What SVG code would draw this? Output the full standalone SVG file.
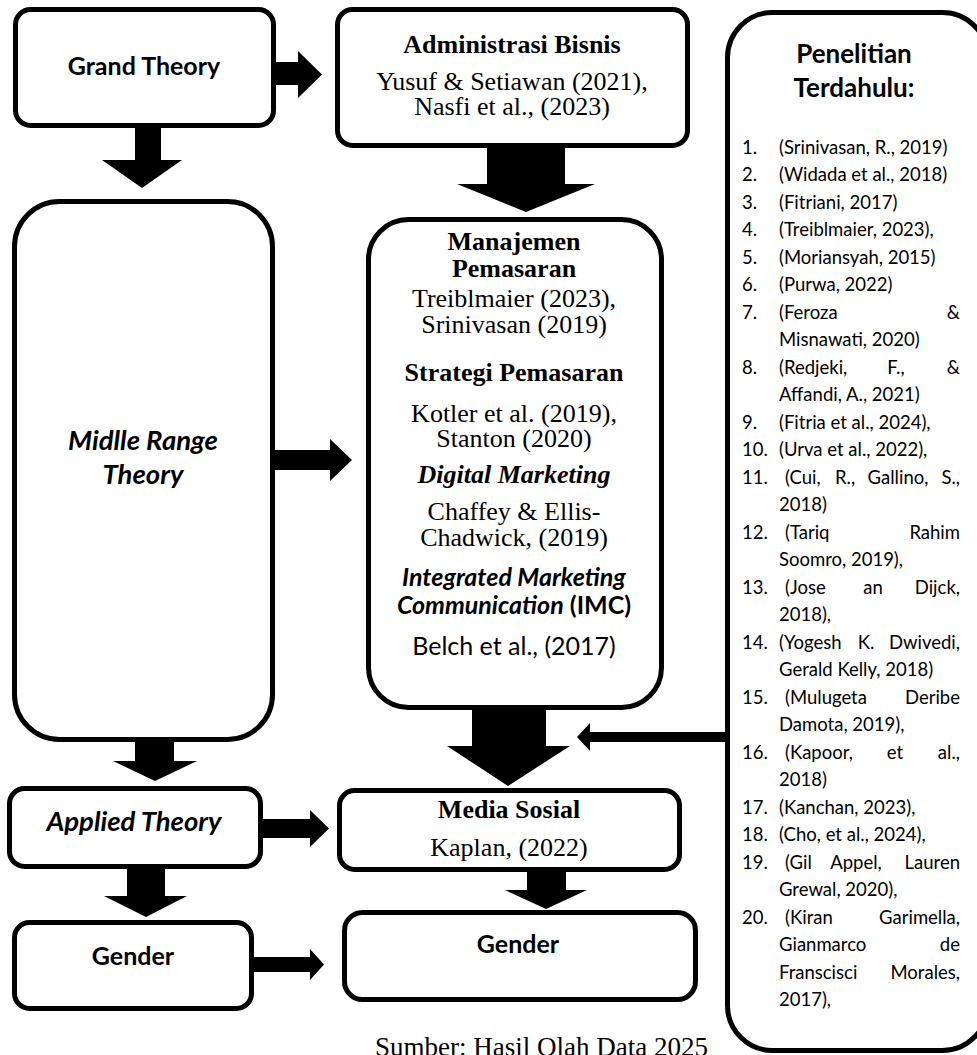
<svg xmlns="http://www.w3.org/2000/svg" width="977" height="1055" viewBox="0 0 977 1055">
<style>
.box{fill:#fff;stroke:#000;stroke-width:5}
.arr{fill:#000;stroke:none}
.tr{font-family:"Liberation Serif","Times New Roman",serif;font-size:26px;text-anchor:middle;fill:#000}
.b{font-weight:bold}
.i{font-style:italic}
.cm{font-family:Lato,"Open Sans",sans-serif;font-size:25px;text-anchor:middle;fill:#000}
.big{font-size:27.5px}
.li{font-family:Lato,"Open Sans",sans-serif;font-size:18.5px;fill:#000}
.e{text-anchor:end}
.m{text-anchor:middle}
</style>
<rect width="977" height="1055" fill="#fff"/>
<g id="connectors">
<polygon class="arr" points="276,62 298,62 298,51 322,74.5 298,98 298,85 276,85"/>
<polygon class="arr" points="135,128 161,128 161,160 182,160 142,188 102,160 135,160"/>
<polygon class="arr" points="487,148 565,148 565,184 595,184 526,212 457,184 487,184"/>
<polygon class="arr" points="275,450 330,450 330,439 352,460 330,481 330,470 275,470"/>
<polygon class="arr" points="135,740 174,740 174,761 197,761 155,781 113,761 135,761"/>
<polygon class="arr" points="472,708 546,708 546,746 570,746 508,786 447,746 472,746"/>
<polygon class="arr" points="727,732 590,732 590,723 577,737 590,751 590,742 727,742"/>
<polygon class="arr" points="263,819 310,819 310,810 329,828.5 310,847 310,838 263,838"/>
<polygon class="arr" points="127,867 165,867 165,896 187,896 146,917 104,896 127,896"/>
<polygon class="arr" points="254,957 310,957 310,949 324,964.5 310,980 310,972 254,972"/>
<polygon class="arr" points="527,870 566,870 566,890 587,890 546,909 505,890 527,890"/>
</g>
<g id="grand-theory">
<rect class="box" x="15.5" y="9.5" width="258" height="116" rx="15"/>
<text class="cm b" x="144" y="75">Grand Theory</text>
</g>
<g id="administrasi-bisnis">
<rect class="box" x="337.5" y="9.5" width="350" height="136" rx="15"/>
<text class="tr b" x="512" y="53">Administrasi Bisnis</text>
<text class="tr" x="512" y="90">Yusuf &amp; Setiawan (2021),</text>
<text class="tr" x="512" y="115">Nasfi et al., (2023)</text>
</g>
<g id="middle-range-theory">
<rect class="box" x="14.5" y="201.5" width="258" height="538" rx="45"/>
<text class="cm big b i" x="143" y="450">Midlle Range</text>
<text class="cm big b i" x="143" y="484">Theory</text>
</g>
<g id="manajemen-pemasaran">
<rect class="box" x="368.5" y="219.5" width="293" height="488" rx="40"/>
<text class="tr b" x="514" y="250">Manajemen</text>
<text class="tr b" x="514" y="277">Pemasaran</text>
<text class="tr" x="514" y="307">Treiblmaier (2023),</text>
<text class="tr" x="514" y="333">Srinivasan (2019)</text>
<text class="tr b" x="514" y="381">Strategi Pemasaran</text>
<text class="tr" x="514" y="422">Kotler et al. (2019),</text>
<text class="tr" x="514" y="447">Stanton (2020)</text>
<text class="tr b i" x="514" y="483">Digital Marketing</text>
<text class="tr" x="514" y="520">Chaffey &amp; Ellis-</text>
<text class="tr" x="514" y="546">Chadwick, (2019)</text>
<text class="cm b i" x="514" y="586">Integrated Marketing</text>
<text class="cm b" x="514" y="614"><tspan class="i">Communication</tspan> (IMC)</text>
<text class="cm" x="514" y="655">Belch et al., (2017)</text>
</g>
<g id="applied-theory">
<rect class="box" x="9.5" y="788.5" width="251" height="78" rx="15"/>
<text class="cm big b i" x="134" y="831">Applied Theory</text>
</g>
<g id="media-sosial">
<rect class="box" x="339.5" y="790.5" width="340" height="79" rx="15"/>
<text class="tr b" x="509" y="818">Media Sosial</text>
<text class="tr" x="509" y="856">Kaplan, (2022)</text>
</g>
<g id="gender-left">
<rect class="box" x="14.5" y="922.5" width="237" height="86" rx="15"/>
<text class="cm b" x="133" y="965">Gender</text>
</g>
<g id="gender-right">
<rect class="box" x="344.5" y="912.5" width="351" height="87" rx="18"/>
<text class="cm b" x="518" y="953">Gender</text>
</g>
<g id="penelitian-terdahulu">
<rect class="box" x="727.5" y="12.5" width="260" height="1038" rx="45"/>
<text class="cm b" x="854" y="63" style="font-size:26px">Penelitian</text>
<text class="cm b" x="854" y="97" style="font-size:26px">Terdahulu:</text>
<g class="li">
<text x="742" y="153.5">1.</text><text x="779" y="153.5">(Srinivasan, R., 2019)</text>
<text x="742" y="181">2.</text><text x="779" y="181">(Widada et al., 2018)</text>
<text x="742" y="208.5">3.</text><text x="779" y="208.5">(Fitriani, 2017)</text>
<text x="742" y="236">4.</text><text x="779" y="236">(Treiblmaier, 2023),</text>
<text x="742" y="263.5">5.</text><text x="779" y="263.5">(Moriansyah, 2015)</text>
<text x="742" y="291">6.</text><text x="779" y="291">(Purwa, 2022)</text>
<text x="742" y="318.5">7.</text><text x="779" y="318.5">(Feroza</text><text class="e" x="960" y="318.5">&amp;</text>
<text x="779" y="346">Misnawati, 2020)</text>
<text x="742" y="373.5">8.</text><text x="779" y="373.5">(Redjeki,</text><text class="m" x="896" y="373.5">F.,</text><text class="e" x="960" y="373.5">&amp;</text>
<text x="779" y="401">Affandi, A., 2021)</text>
<text x="742" y="428.5">9.</text><text x="779" y="428.5">(Fitria et al., 2024),</text>
<text x="742" y="456">10.</text><text x="779" y="456">(Urva et al., 2022),</text>
<text x="742" y="483.5">11.</text><text x="785" y="483.5">(Cui,</text><text class="m" x="845" y="483.5">R.,</text><text class="m" x="898" y="483.5">Gallino,</text><text class="e" x="960" y="483.5">S.,</text>
<text x="779" y="511">2018)</text>
<text x="742" y="538.5">12.</text><text x="785" y="538.5">(Tariq</text><text class="e" x="960" y="538.5">Rahim</text>
<text x="779" y="566">Soomro, 2019),</text>
<text x="742" y="593.5">13.</text><text x="785" y="593.5">(Jose</text><text class="m" x="873" y="593.5">an</text><text class="e" x="960" y="593.5">Dijck,</text>
<text x="779" y="621">2018),</text>
<text x="742" y="648.5">14.</text><text x="779" y="648.5">(Yogesh</text><text class="m" x="866" y="648.5">K.</text><text class="e" x="960" y="648.5">Dwivedi,</text>
<text x="779" y="676">Gerald Kelly, 2018)</text>
<text x="742" y="703.5">15.</text><text x="785" y="703.5">(Mulugeta</text><text class="e" x="960" y="703.5">Deribe</text>
<text x="779" y="731">Damota, 2019),</text>
<text x="742" y="758.5">16.</text><text x="785" y="758.5">(Kapoor,</text><text class="m" x="895" y="758.5">et</text><text class="e" x="960" y="758.5">al.,</text>
<text x="779" y="786">2018)</text>
<text x="742" y="813.5">17.</text><text x="779" y="813.5">(Kanchan, 2023),</text>
<text x="742" y="841">18.</text><text x="779" y="841">(Cho, et al., 2024),</text>
<text x="742" y="868.5">19.</text><text x="785" y="868.5">(Gil</text><text class="m" x="856" y="868.5">Appel,</text><text class="e" x="960" y="868.5">Lauren</text>
<text x="779" y="896">Grewal, 2020),</text>
<text x="742" y="923.5">20.</text><text x="785" y="923.5">(Kiran</text><text class="e" x="960" y="923.5">Garimella,</text>
<text x="779" y="951">Gianmarco</text><text class="e" x="960" y="951">de</text>
<text x="779" y="978.5">Franscisci</text><text class="e" x="960" y="978.5">Morales,</text>
<text x="779" y="1006">2017),</text>
</g>
</g>
<text class="tr" x="375" y="1056" style="text-anchor:start;font-size:27px">Sumber: Hasil Olah Data 2025</text>
</svg>
